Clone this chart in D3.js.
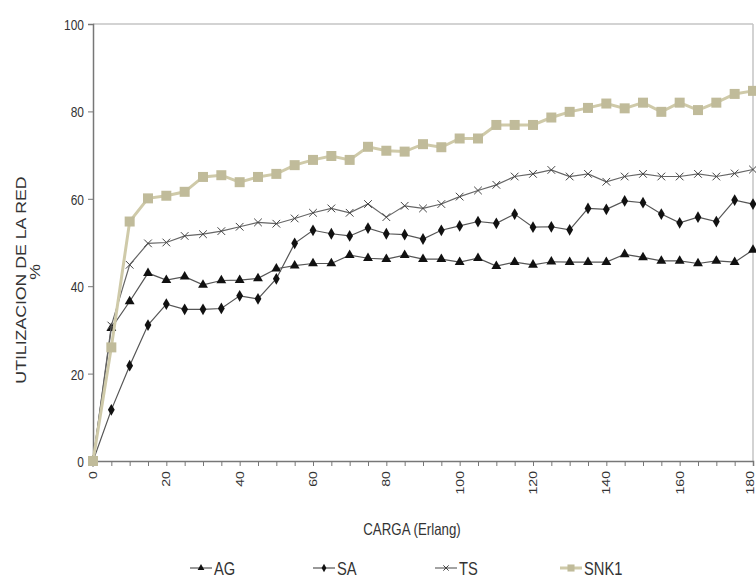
<!DOCTYPE html>
<html><head><meta charset="utf-8">
<script src="https://cdn.jsdelivr.net/npm/d3@7"></script>
<style>
html,body{margin:0;padding:0;background:#fff;}
svg{display:block;}
text{font-family:"Liberation Sans",Arial,sans-serif;fill:#333;}
</style></head>
<body>
<svg id="c" width="756" height="579"></svg>
<script>
const carga = [0,5,10,15,20,25,30,35,40,45,50,55,60,65,70,75,80,85,90,95,100,105,110,115,120,125,130,135,140,145,150,155,160,165,170,175,180];
const AG   = [0,30.4,36.5,43,41.4,42.2,40.3,41.3,41.4,41.8,44,44.7,45.2,45.2,47.1,46.4,46.2,47.1,46.2,46.2,45.5,46.4,44.6,45.5,44.9,45.6,45.5,45.5,45.5,47.3,46.6,45.8,45.8,45.2,45.8,45.5,48.3];
const SA   = [0,11.7,21.8,31.1,35.9,34.7,34.7,34.9,37.8,37.1,41.7,49.8,52.8,52,51.5,53.3,52,51.8,50.8,52.8,53.8,54.8,54.4,56.5,53.5,53.6,52.9,57.8,57.6,59.5,59.1,56.5,54.5,55.8,54.8,59.7,58.8];
const TS   = [0,31,44.9,49.8,50,51.5,51.9,52.6,53.6,54.6,54.3,55.5,56.8,57.8,56.8,58.8,55.8,58.4,57.8,58.8,60.5,61.9,63.2,65.1,65.7,66.6,65.1,65.7,63.9,65.1,65.7,65.1,65.1,65.7,65.1,65.8,66.7];
const SNK1 = [0,26,54.8,60.1,60.7,61.6,65,65.4,63.8,65,65.7,67.7,68.9,69.8,68.9,71.9,71,70.8,72.5,71.8,73.8,73.8,76.9,76.9,76.9,78.6,79.9,80.8,81.8,80.7,82,79.9,82,80.3,82,84,84.7];
const seriesNames = ["AG","SA","TS","SNK1"];
const xTickValues = [0,20,40,60,80,100,120,140,160,180];
const yTickValues = [0,20,40,60,80,100];
const xTitle = "CARGA  (Erlang)";
const yTitle = ["UTILIZACION  DE LA RED","%"];

const svg = d3.select("#c");
const x = d3.scaleLinear().domain([0,180]).range([93,753]);
const y = d3.scaleLinear().domain([0,100]).range([461,24]);
const SY = 1.18; // vertical stretch of the original picture's lettering

// frame (top / right)
svg.append("line").attr("x1",x(0)).attr("x2",x(180)).attr("y1",y(100)).attr("y2",y(100)).attr("stroke","#c4c4c4").attr("stroke-width",1.5);
svg.append("line").attr("x1",x(180)).attr("x2",x(180)).attr("y1",y(100)).attr("y2",y(0)).attr("stroke","#c4c4c4").attr("stroke-width",1.5);

// y axis
const yAx = svg.append("g").attr("transform",`translate(${x(0)},0)`)
  .call(d3.axisLeft(y).tickValues(yTickValues).tickSize(5).tickFormat(d3.format("d")));
yAx.select(".domain").attr("stroke","#777").attr("stroke-width",1.5);
yAx.selectAll(".tick line").attr("stroke","#777");
yAx.selectAll(".tick text").each(function(d){
  const t = d3.select(this);
  t.attr("x",null).attr("dy",null).attr("text-anchor","end")
   .attr("font-size",13).attr("fill","#555")
   .attr("transform",`translate(-9,${0.36*13*SY}) scale(0.92,${SY})`);
});

// x axis (ticks every 5)
const xAx = svg.append("g").attr("transform",`translate(0,${y(0)})`)
  .call(d3.axisBottom(x).tickValues(carga).tickSize(5).tickFormat(""));
xAx.select(".domain").attr("stroke","#777").attr("stroke-width",1.5);
xAx.selectAll(".tick line").attr("stroke","#777");
svg.append("g").selectAll("text").data(xTickValues).join("text")
  .attr("text-anchor","end").attr("font-size",12).attr("fill","#555")
  .attr("dy","0.36em")
  .attr("transform",d=>`translate(${x(d) - (d===180?3:0)},${y(0)+10}) rotate(-90) scale(${SY},0.92)`)
  .text(d=>d);

// titles
svg.append("text").attr("text-anchor","middle").attr("font-size",14).attr("fill","#555")
  .attr("transform",`translate(${x(87)},535) scale(0.95,${SY})`).text(xTitle);
svg.append("text").attr("text-anchor","middle").attr("font-size",15).attr("fill","#555")
  .attr("transform",`translate(26,280) rotate(-90) scale(${SY},0.95)`).text(yTitle[0]);
svg.append("text").attr("text-anchor","middle").attr("font-size",15).attr("fill","#555")
  .attr("transform",`translate(40,272) rotate(-90) scale(${SY},0.95)`).text(yTitle[1]);

// series
const styles = {
  AG:   {vals:AG,   line:"#555", lw:1.2, sym:d3.symbolTriangle, size:42, fill:"#111", stroke:"none"},
  SA:   {vals:SA,   line:"#555", lw:1.2, sym:d3.symbolDiamond,  size:40, fill:"#111", stroke:"none"},
  TS:   {vals:TS,   line:"#666", lw:1.2, sym:d3.symbolX,        size:40, fill:"none", stroke:"#444"},
  SNK1: {vals:SNK1, line:"#cfcaa9", lw:3, sym:d3.symbolSquare,  size:100, fill:"#c0bb9a", stroke:"none"}
};
const lineGen = d3.line().x((d,i)=>x(carga[i])).y(d=>y(d));
seriesNames.forEach(name=>{
  const s = styles[name];
  const g = svg.append("g").attr("class","series-"+name);
  g.append("path").datum(s.vals).attr("d",lineGen).attr("fill","none")
    .attr("stroke",s.line).attr("stroke-width",s.lw);
  g.selectAll("path.m").data(s.vals).join("path").attr("class","m")
    .attr("d",d3.symbol().type(s.sym).size(s.size))
    .attr("transform",(d,i)=>`translate(${x(carga[i])},${y(d)})`)
    .attr("fill",s.fill).attr("stroke",s.stroke).attr("stroke-width",1);
});

// legend
const legX = [190,313,435,560];
const lg = svg.append("g");
seriesNames.forEach((name,i)=>{
  const s = styles[name];
  const g = lg.append("g").attr("transform",`translate(${legX[i]},568)`);
  g.append("line").attr("x1",0).attr("x2",22).attr("stroke",s.line).attr("stroke-width",name==="SNK1"?3:1.2);
  g.append("path").attr("d",d3.symbol().type(s.sym).size(name==="SNK1"?50:20))
    .attr("transform","translate(11,0)").attr("fill",s.fill).attr("stroke",s.stroke);
  g.append("text").attr("x",0).attr("font-size",16).attr("fill","#333")
    .attr("transform",`translate(24,${0.36*16*SY}) scale(0.92,${SY})`).text(name);
});
</script>
</body></html>
